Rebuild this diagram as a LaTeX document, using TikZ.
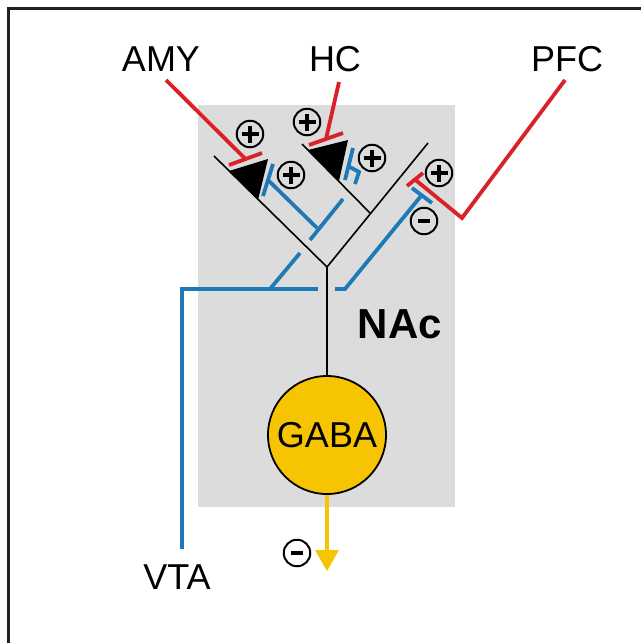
\documentclass[tikz,border=0pt]{standalone}
\usepackage{fontspec}
\usetikzlibrary{calc}
\setmainfont{Liberation Sans}
\definecolor{nacgray}{RGB}{220,220,220}
\definecolor{synred}{RGB}{218,32,40}
\definecolor{synblue}{RGB}{30,122,182}
\definecolor{gabayel}{RGB}{246,196,0}
\definecolor{framecol}{RGB}{35,31,32}
\begin{document}
\begin{tikzpicture}[x=1pt,y=-1pt,
  lbl/.style={inner sep=0pt,font=\fontsize{36}{36}\selectfont},
  dend/.style={draw=black,line width=1.6pt},
  redax/.style={draw=synred,line width=3.8pt},
  blueax/.style={draw=synblue,line width=3.8pt},
  spine/.style={fill=black,draw=none},
  signcirc/.style={circle,draw=black,line width=2pt,minimum size=26.5pt,inner sep=0pt},
  plussign/.style={signcirc,path picture={
     \draw[line width=3.2pt] ([xshift=-8.5pt]path picture bounding box.center) -- ([xshift=8.5pt]path picture bounding box.center);
     \draw[line width=3.2pt] ([yshift=-8.5pt]path picture bounding box.center) -- ([yshift=8.5pt]path picture bounding box.center);}},
  minussign/.style={signcirc,path picture={
     \draw[line width=3.8pt] ([xshift=-6pt]path picture bounding box.center) -- ([xshift=6pt]path picture bounding box.center);}}
]
\useasboundingbox (0,0) rectangle (641,643);
% frame
\draw[framecol,line width=3.6pt] (8.5,643) -- (8.5,8.5) -- (641,8.5);
% NAc region
\fill[nacgray] (198,105) rectangle (455,507);

% labels
\node[lbl] (amy) at (161,59) {AMY};
\node[lbl] (hc) at (335,59) {HC};
\node[lbl] (pfc) at (567,59) {PFC};
\node[lbl] (vta) at (177,577) {VTA};
\node[inner sep=0pt,font=\fontsize{42}{42}\selectfont\bfseries] (nac) at (400,324) {NAc};

% GABA neuron
\node[circle,fill=gabayel,draw=black,line width=1.8pt,minimum size=118pt,inner sep=0pt,
      font=\fontsize{36}{36}\selectfont] (gaba) at (327,435) {GABA};

% dendritic tree
\coordinate (fork) at (327,267);
\coordinate (ltip) at (214,156);
\coordinate (rtip) at (428,143);
\coordinate (mjoin) at (370,213);
\coordinate (mtip) at (302,144);
\draw[dend] (gaba.north) -- (fork);
\draw[dend] (fork) -- (ltip);
\draw[dend] (fork) -- (rtip);
\draw[dend] (mjoin) -- (mtip);

% spines
\coordinate (sa1) at (229,171); \coordinate (sa2) at (268,159); \coordinate (sa3) at (258,200);
\fill[spine] (sa1) -- (sa2) -- (sa3) -- cycle;
\coordinate (sh1) at (308,150); \coordinate (sh2) at (348,140); \coordinate (sh3) at (339,181);
\fill[spine] (sh1) -- (sh2) -- (sh3) -- cycle;

% AMY input
\coordinate (amyend) at (166,80);
\coordinate (amybarA) at (229,165); \coordinate (amybarB) at (262,153);
\coordinate (amybarM) at ($(amybarA)!0.5!(amybarB)$);
\draw[redax] (amyend) -- (amybarM);
\draw[redax] (amybarA) -- (amybarB);

% HC input
\coordinate (hcend) at (339,82);
\coordinate (hcbarA) at (309,145); \coordinate (hcbarB) at (343,133);
\coordinate (hcbarM) at ($(hcbarA)!0.5!(hcbarB)$);
\draw[redax] (hcend) -- (hcbarM);
\draw[redax] (hcbarA) -- (hcbarB);

% PFC input
\coordinate (pfcend) at (565,80);
\coordinate (pfcknee) at (462,218);
\coordinate (pfcbarA) at (407,186); \coordinate (pfcbarB) at (423,173);
\coordinate (pfcbarM) at ($(pfcbarA)!0.5!(pfcbarB)$);
\draw[redax,line join=miter] (pfcend) -- (pfcknee) -- (pfcbarM);
\draw[redax] (pfcbarA) -- (pfcbarB);

% VTA input
\coordinate (vtaend) at (182,549);
\coordinate (vtacorner) at (182,289);
\coordinate (hgapL) at (318,289);
\coordinate (hgapR) at (335,289);
\coordinate (vtaknee) at (345,289);
\coordinate (ltop) at (300,253);
\coordinate (lbase) at (270,289);
\coordinate (rtop) at (421,196);
\draw[blueax,line join=miter] (vtaend) -- (vtacorner) -- (hgapL);
\draw[blueax] (lbase) -- (ltop);
\draw[blueax,line join=miter] (hgapR) -- (vtaknee) -- (rtop);
\draw[blueax] (412,188) -- (432,203);

% blue terminal on AMY spine
\coordinate (abarA) at (273,164); \coordinate (abarB) at (263,196);
\coordinate (abarM) at ($(abarA)!0.5!(abarB)$);
\coordinate (astemend) at (317,228);
\draw[blueax] (abarA) -- (abarB);
\draw[blueax] (abarM) -- (astemend);
\draw[blueax] (343,199) -- (310,240);

% blue terminal on HC spine
\draw[blueax] (353,148) -- (345,180);
\draw[blueax,line join=miter] (348,166) -- (359,172) -- (355,184);

% output arrow
\coordinate (outtip) at (327,571);
\draw[gabayel,line width=4pt] (gaba.south) -- (327,552);
\fill[gabayel] (315,550) -- (339,550) -- (outtip) -- cycle;

% signs
\node[plussign] (p1) at (250,134) {};
\node[plussign] (p2) at (291,175) {};
\node[plussign] (p3) at (307,122) {};
\node[plussign] (p4) at (372,158) {};
\node[plussign] (p5) at (439,173) {};
\node[minussign] (m1) at (424,221) {};
\node[minussign] (m2) at (297,553) {};
\end{tikzpicture}
\end{document}
